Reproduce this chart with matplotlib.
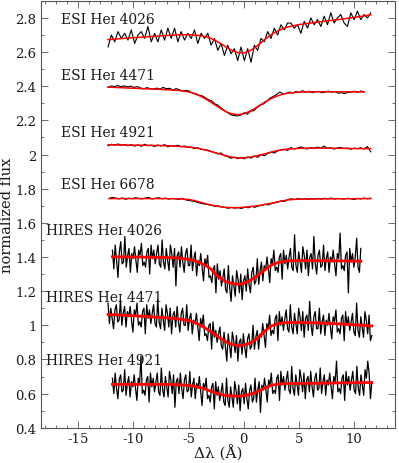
import numpy as np
import matplotlib
matplotlib.use("Agg")
import matplotlib.pyplot as plt
from matplotlib.ticker import MultipleLocator, FuncFormatter

plt.rcParams['font.family'] = ['DejaVu Serif', 'DejaVu Sans']
plt.rcParams['axes.unicode_minus'] = False

# ---------------- data ----------------
labels = ["ESI Heɪ 4026", "ESI Heɪ 4471", "ESI Heɪ 4921", "ESI Heɪ 6678",
          "HIRES Heɪ 4026", "HIRES Heɪ 4471", "HIRES Heɪ 4921"]
label_x = [-16.6, -16.6, -16.6, -16.6, -17.9, -17.9, -17.9]
label_y = [2.771, 2.443, 2.106, 1.804, 1.537, 1.145, 0.775]

# wavelength ranges (start, end) of each observed spectrum
ranges = [(-12.3, 11.5), (-12.3, 10.9), (-12.3, 11.5), (-12.2, 11.5),
          (-11.9, 10.6), (-12.3, 11.6), (-11.9, 11.6)]

esi_4026 = [2.63, 2.70, 2.66, 2.72, 2.68,
            2.71, 2.67, 2.73, 2.65, 2.70,
            2.72, 2.68, 2.75, 2.66, 2.71,
            2.66, 2.73, 2.67, 2.74, 2.68,
            2.74, 2.66, 2.72, 2.67, 2.71,
            2.68, 2.73, 2.65, 2.71, 2.68,
            2.71, 2.64, 2.68, 2.61, 2.65,
            2.58, 2.64, 2.59, 2.62, 2.55,
            2.63, 2.55, 2.62, 2.54, 2.64,
            2.61, 2.68, 2.66, 2.72, 2.68,
            2.74, 2.70, 2.76, 2.73, 2.77,
            2.77, 2.74, 2.76, 2.71, 2.78,
            2.74, 2.80, 2.76, 2.79, 2.75,
            2.81, 2.76, 2.83, 2.77, 2.80,
            2.82, 2.77, 2.75, 2.83, 2.79,
            2.84, 2.79, 2.82, 2.80, 2.83]
esi_4471 = [2.395, 2.401, 2.398, 2.404, 2.397,
            2.402, 2.396, 2.400, 2.393, 2.398,
            2.390, 2.384, 2.392, 2.386, 2.383,
            2.389, 2.383, 2.393, 2.385, 2.388,
            2.378, 2.386, 2.380, 2.372, 2.376,
            2.372, 2.361, 2.357, 2.348, 2.344,
            2.333, 2.321, 2.314, 2.296, 2.288,
            2.270, 2.257, 2.244, 2.232, 2.228,
            2.226, 2.231, 2.245, 2.236, 2.254,
            2.257, 2.276, 2.289, 2.297, 2.312,
            2.331, 2.340, 2.352, 2.366, 2.355,
            2.358, 2.366, 2.360, 2.369, 2.363,
            2.374, 2.365, 2.371, 2.362, 2.368,
            2.370, 2.362, 2.366, 2.371, 2.365,
            2.369, 2.359, 2.362, 2.357, 2.364,
            2.366, 2.371, 2.364, 2.372, 2.366]
esi_4921 = [2.051, 2.060, 2.055, 2.062, 2.054,
            2.059, 2.051, 2.058, 2.049, 2.057,
            2.048, 2.060, 2.052, 2.055, 2.047,
            2.056, 2.050, 2.058, 2.045, 2.053,
            2.049, 2.055, 2.046, 2.050, 2.042,
            2.043, 2.035, 2.039, 2.030, 2.028,
            2.026, 2.018, 2.012, 2.004, 2.009,
            1.993, 1.988, 1.978, 1.984, 1.976,
            1.982, 1.975, 1.986, 1.979, 1.991,
            1.984, 1.999, 1.993, 2.006, 2.013,
            2.009, 2.021, 2.027, 2.031, 2.024,
            2.041, 2.032, 2.038, 2.045, 2.036,
            2.033, 2.041, 2.035, 2.044, 2.038,
            2.049, 2.036, 2.040, 2.032, 2.039,
            2.041, 2.035, 2.038, 2.031, 2.037,
            2.034, 2.040, 2.032, 2.047, 2.016]
esi_6678 = [1.743, 1.749, 1.745, 1.740, 1.746,
            1.738, 1.744, 1.741, 1.747, 1.743,
            1.740, 1.746, 1.748, 1.739, 1.744,
            1.747, 1.741, 1.745, 1.739, 1.743,
            1.741, 1.737, 1.743, 1.735, 1.731,
            1.728, 1.724, 1.718, 1.713, 1.710,
            1.706, 1.702, 1.697, 1.699, 1.693,
            1.690, 1.685, 1.691, 1.686, 1.689,
            1.684, 1.693, 1.688, 1.697, 1.691,
            1.699, 1.702, 1.708, 1.705, 1.712,
            1.717, 1.721, 1.729, 1.725, 1.737,
            1.741, 1.736, 1.743, 1.738, 1.741,
            1.738, 1.742, 1.740, 1.743, 1.739,
            1.744, 1.741, 1.745, 1.740, 1.743,
            1.742, 1.739, 1.744, 1.741, 1.737,
            1.743, 1.740, 1.745, 1.741, 1.744]

hires_4026 = [
    1.44, 1.33, 1.47, 1.38, 1.28, 1.43, 1.49, 1.36,
    1.37, 1.52, 1.34, 1.41, 1.45, 1.31, 1.42, 1.39,
    1.46, 1.38, 1.31, 1.44, 1.41, 1.48, 1.35, 1.37,
    1.34, 1.43, 1.45, 1.30, 1.47, 1.39, 1.44, 1.36,
    1.42, 1.47, 1.36, 1.34, 1.50, 1.37, 1.33, 1.45,
    1.38, 1.32, 1.47, 1.42, 1.34, 1.45, 1.23, 1.41,
    1.43, 1.34, 1.46, 1.37, 1.31, 1.42, 1.45, 1.35,
    1.35, 1.47, 1.32, 1.39, 1.43, 1.29, 1.38, 1.35,
    1.42, 1.34, 1.26, 1.39, 1.35, 1.41, 1.28, 1.29,
    1.25, 1.33, 1.35, 1.19, 1.36, 1.27, 1.32, 1.23,
    1.28, 1.33, 1.21, 1.19, 1.35, 1.22, 1.14, 1.29,
    1.23, 1.17, 1.32, 1.27, 1.19, 1.30, 1.15, 1.26,
    1.29, 1.20, 1.33, 1.24, 1.19, 1.31, 1.34, 1.24,
    1.26, 1.39, 1.24, 1.32, 1.37, 1.26, 1.35, 1.32,
    1.40, 1.33, 1.25, 1.39, 1.36, 1.44, 1.32, 1.34,
    1.31, 1.40, 1.42, 1.27, 1.44, 1.36, 1.41, 1.33,
    1.40, 1.45, 1.34, 1.32, 1.53, 1.35, 1.31, 1.43,
    1.37, 1.31, 1.46, 1.41, 1.33, 1.44, 1.29, 1.40,
    1.42, 1.33, 1.52, 1.36, 1.30, 1.41, 1.44, 1.34,
    1.35, 1.47, 1.32, 1.39, 1.43, 1.31, 1.40, 1.37,
    1.44, 1.36, 1.29, 1.42, 1.39, 1.54, 1.33, 1.35,
    1.32, 1.41, 1.43, 1.19, 1.45, 1.37, 1.42, 1.34,
    1.40, 1.51, 1.34, 1.31, 1.45]
hires_4471 = [
    1.13, 1.01, 1.10, 1.04, 0.98, 1.09, 1.12, 1.02,
    1.03, 1.15, 1.00, 1.07, 1.11, 0.99, 1.08, 1.05,
    1.11, 1.03, 0.96, 1.09, 1.06, 1.13, 1.00, 1.02,
    0.99, 1.08, 1.10, 0.95, 1.12, 1.04, 1.09, 1.01,
    1.07, 1.12, 1.01, 0.99, 1.15, 1.02, 0.98, 1.10,
    1.03, 0.97, 1.12, 1.07, 0.99, 1.10, 0.95, 1.06,
    1.08, 0.99, 1.11, 1.02, 0.96, 1.07, 1.10, 1.00,
    1.00, 1.12, 0.97, 1.04, 1.07, 0.95, 1.03, 1.01,
    1.07, 0.99, 0.91, 1.04, 1.00, 1.06, 0.94, 0.95,
    0.91, 1.00, 1.01, 0.86, 1.02, 0.93, 0.97, 0.90,
    0.95, 0.99, 0.88, 0.86, 0.96, 0.87, 0.79, 0.95,
    0.88, 0.81, 0.96, 0.91, 0.84, 0.94, 0.79, 0.90,
    0.92, 0.83, 0.95, 0.87, 0.81, 0.92, 0.95, 0.86,
    0.88, 1.00, 0.86, 0.93, 0.97, 0.86, 0.95, 0.93,
    1.01, 0.94, 0.87, 1.01, 0.98, 1.06, 0.94, 0.97,
    0.95, 1.04, 1.06, 0.91, 1.08, 1.00, 1.05, 0.97,
    1.04, 1.09, 0.98, 0.96, 1.12, 0.99, 0.95, 1.07,
    1.01, 0.95, 1.10, 1.05, 0.97, 1.08, 0.93, 1.04,
    1.06, 0.97, 1.14, 1.00, 0.94, 1.05, 1.08, 0.98,
    0.98, 1.10, 0.95, 1.02, 1.06, 0.94, 1.03, 1.00,
    1.07, 0.99, 0.92, 1.05, 1.02, 1.09, 0.96, 0.98,
    0.95, 1.04, 1.06, 0.91, 1.08, 1.00, 1.05, 0.97,
    1.02, 1.07, 0.96, 0.94, 1.13, 0.97, 0.93, 1.05,
    0.99, 0.93, 1.08, 1.03, 0.95, 1.06, 0.91, 0.94]
hires_4921 = [
    0.69, 0.60, 0.72, 0.63, 0.57, 0.68, 0.71, 0.61,
    0.62, 0.74, 0.59, 0.66, 0.70, 0.58, 0.67, 0.64,
    0.71, 0.63, 0.56, 0.69, 0.66, 0.82, 0.60, 0.62,
    0.59, 0.68, 0.70, 0.55, 0.72, 0.64, 0.69, 0.61,
    0.67, 0.72, 0.61, 0.59, 0.75, 0.62, 0.58, 0.70,
    0.64, 0.58, 0.73, 0.68, 0.60, 0.71, 0.52, 0.67,
    0.69, 0.60, 0.72, 0.63, 0.57, 0.68, 0.71, 0.61,
    0.62, 0.73, 0.58, 0.65, 0.69, 0.57, 0.66, 0.63,
    0.70, 0.61, 0.53, 0.66, 0.63, 0.69, 0.57, 0.59,
    0.55, 0.64, 0.66, 0.51, 0.67, 0.59, 0.64, 0.56,
    0.61, 0.66, 0.55, 0.53, 0.69, 0.56, 0.52, 0.64,
    0.58, 0.52, 0.67, 0.62, 0.54, 0.65, 0.50, 0.61,
    0.63, 0.54, 0.66, 0.57, 0.51, 0.62, 0.65, 0.55,
    0.57, 0.69, 0.55, 0.62, 0.67, 0.49, 0.65, 0.62,
    0.69, 0.62, 0.55, 0.68, 0.65, 0.72, 0.60, 0.62,
    0.60, 0.69, 0.71, 0.56, 0.73, 0.65, 0.70, 0.62,
    0.68, 0.73, 0.62, 0.60, 0.76, 0.63, 0.59, 0.71,
    0.65, 0.59, 0.74, 0.69, 0.61, 0.72, 0.57, 0.68,
    0.70, 0.61, 0.73, 0.64, 0.58, 0.69, 0.72, 0.62,
    0.63, 0.75, 0.60, 0.67, 0.71, 0.59, 0.68, 0.65,
    0.72, 0.64, 0.57, 0.70, 0.67, 0.79, 0.61, 0.63,
    0.60, 0.69, 0.71, 0.56, 0.73, 0.65, 0.70, 0.62,
    0.68, 0.73, 0.62, 0.60, 0.76, 0.63, 0.59, 0.71,
    0.65, 0.59, 0.74, 0.69, 0.79, 0.72, 0.57, 0.67]

# model fits (red curves): wavelength offsets and fluxes
fit_esi_4026_x = [-12.3, -10, -8, -6, -5, -4, -3.5, -3, -2.5, -2, -1.5, -1, -0.5, 0,
                  0.5, 1, 1.5, 2, 2.5, 3, 3.5, 4, 5, 6, 7.5, 9, 10.5, 11.5]
fit_esi_4026_y = [2.673, 2.684, 2.693, 2.701, 2.702, 2.697, 2.691, 2.681, 2.665, 2.646,
                  2.625, 2.607, 2.596, 2.595, 2.606, 2.626, 2.652, 2.679, 2.703, 2.722,
                  2.737, 2.747, 2.761, 2.770, 2.782, 2.794, 2.808, 2.818]
fit_esi_4471_x = [-12.3, -10, -8, -6, -5, -4.5, -4, -3.5, -3, -2.5, -2, -1.5, -1, -0.5,
                  0, 0.5, 1, 1.5, 2, 2.5, 3, 3.5, 4, 5, 7, 10.9]
fit_esi_4471_y = [2.395, 2.388, 2.383, 2.376, 2.367, 2.357, 2.344, 2.327, 2.307, 2.286,
                  2.265, 2.247, 2.237, 2.233, 2.239, 2.252, 2.270, 2.291, 2.311, 2.328,
                  2.342, 2.353, 2.360, 2.366, 2.368, 2.367]
fit_esi_4921_x = [-12.3, -9, -7, -6, -5, -4, -3.5, -3, -2.5, -2, -1.5, -1, -0.5, 0,
                  0.5, 1, 1.5, 2, 2.5, 3, 3.5, 4, 5, 6.5, 9, 11.5]
fit_esi_4921_y = [2.057, 2.054, 2.052, 2.048, 2.044, 2.035, 2.027, 2.018, 2.009, 2.000,
                  1.991, 1.984, 1.980, 1.981, 1.984, 1.990, 1.998, 2.006, 2.015, 2.023,
                  2.028, 2.032, 2.036, 2.038, 2.036, 2.034]
fit_esi_6678_x = [-12.2, -8, -6, -5, -4.5, -4, -3.5, -3, -2.5, -2, -1.5, -1, -0.5, 0,
                  0.5, 1, 1.5, 2, 2.5, 3, 3.5, 4, 4.5, 5, 7, 11.5]
fit_esi_6678_y = [1.742, 1.742, 1.741, 1.737, 1.731, 1.722, 1.713, 1.705, 1.698, 1.693,
                  1.690, 1.689, 1.689, 1.691, 1.694, 1.698, 1.703, 1.709, 1.715, 1.722,
                  1.729, 1.734, 1.737, 1.739, 1.740, 1.742]
fit_hires_4026_x = [-11.9, -10, -8, -7, -6, -5, -4.5, -4, -3.5, -3, -2.5, -2, -1.5, -1,
                    -0.5, 0, 0.5, 1, 1.5, 2, 2.5, 3, 3.5, 4, 5, 7, 9, 10.6]
fit_hires_4026_y = [1.401, 1.400, 1.398, 1.397, 1.394, 1.386, 1.378, 1.367, 1.352, 1.331,
                    1.295, 1.270, 1.252, 1.244, 1.240, 1.246, 1.260, 1.280, 1.305, 1.330,
                    1.352, 1.366, 1.373, 1.377, 1.379, 1.378, 1.377, 1.375]
fit_hires_4471_x = [-12.3, -11, -10, -9, -8, -7, -6, -5, -4.5, -4, -3.5, -3, -2.5, -2,
                    -1.5, -1, -0.5, 0, 0.5, 1, 1.5, 2, 2.5, 3, 3.5, 4, 5, 6, 7, 8, 9,
                    10, 11, 11.6]
fit_hires_4471_y = [1.063, 1.059, 1.056, 1.052, 1.048, 1.044, 1.038, 1.028, 1.017, 1.002,
                    0.984, 0.962, 0.940, 0.918, 0.899, 0.886, 0.881, 0.884, 0.895, 0.913,
                    0.940, 0.972, 0.996, 1.009, 1.013, 1.016, 1.017, 1.015, 1.013, 1.010,
                    1.007, 1.003, 0.999, 0.996]
fit_hires_4921_x = [-11.9, -9, -7, -6, -5, -4.5, -4, -3.5, -3, -2.5, -2, -1.5, -1, -0.5,
                    0, 0.5, 1, 1.5, 2, 2.5, 3, 3.5, 4, 6, 8, 10, 11.6]
fit_hires_4921_y = [0.654, 0.654, 0.654, 0.652, 0.648, 0.643, 0.636, 0.626, 0.614, 0.602,
                    0.593, 0.588, 0.586, 0.585, 0.588, 0.595, 0.606, 0.620, 0.636, 0.648,
                    0.655, 0.658, 0.659, 0.660, 0.662, 0.664, 0.665]

spectra = [esi_4026, esi_4471, esi_4921, esi_6678, hires_4026, hires_4471, hires_4921]
fits = [(fit_esi_4026_x, fit_esi_4026_y), (fit_esi_4471_x, fit_esi_4471_y),
        (fit_esi_4921_x, fit_esi_4921_y), (fit_esi_6678_x, fit_esi_6678_y),
        (fit_hires_4026_x, fit_hires_4026_y), (fit_hires_4471_x, fit_hires_4471_y),
        (fit_hires_4921_x, fit_hires_4921_y)]
is_hires = [False, False, False, False, True, True, True]

# ---------------- plot ----------------
fig = plt.figure(figsize=(3.99, 4.64), dpi=100)
ax = fig.add_axes([0.102, 0.076, 0.888, 0.920])

for flux, (fx, fy), (x0, x1), hi in zip(spectra, fits, ranges, is_hires):
    wl = np.linspace(x0, x1, len(flux))
    ax.plot(wl, flux, color='black', lw=0.9 if hi else 0.8, zorder=2)
    ax.plot(fx, fy, color='red', lw=2.0 if hi else 1.1, zorder=3)

for t, tx, ty in zip(labels, label_x, label_y):
    ax.text(tx, ty, t, fontsize=10, va='baseline', ha='left', color='#1a1a1a')

ax.set_xlim(-18.4, 13.7)
ax.set_ylim(0.4, 2.9)
ax.xaxis.set_major_locator(MultipleLocator(5))
ax.xaxis.set_minor_locator(MultipleLocator(1))
ax.yaxis.set_major_locator(MultipleLocator(0.2))
ax.yaxis.set_minor_locator(MultipleLocator(0.1))
ax.yaxis.set_major_formatter(FuncFormatter(lambda v, p: '%g' % round(v, 2)))
ax.xaxis.set_major_formatter(FuncFormatter(lambda v, p: '%g' % v))
ax.tick_params(which='both', direction='in', top=True, right=True,
               labelsize=9.5, colors='#555555', labelcolor='#1a1a1a', pad=3)
ax.tick_params(which='major', length=5, width=0.6)
ax.tick_params(which='minor', length=2.5, width=0.6)
for s in ax.spines.values():
    s.set_color('#555555')
    s.set_linewidth(0.8)

ax.set_xlabel('Δλ (Å)', fontsize=11, labelpad=0, color='#1a1a1a')
ax.set_ylabel('normalized flux', fontsize=10.5, labelpad=1, color='#1a1a1a')

fig.savefig('out.png', dpi=100)
